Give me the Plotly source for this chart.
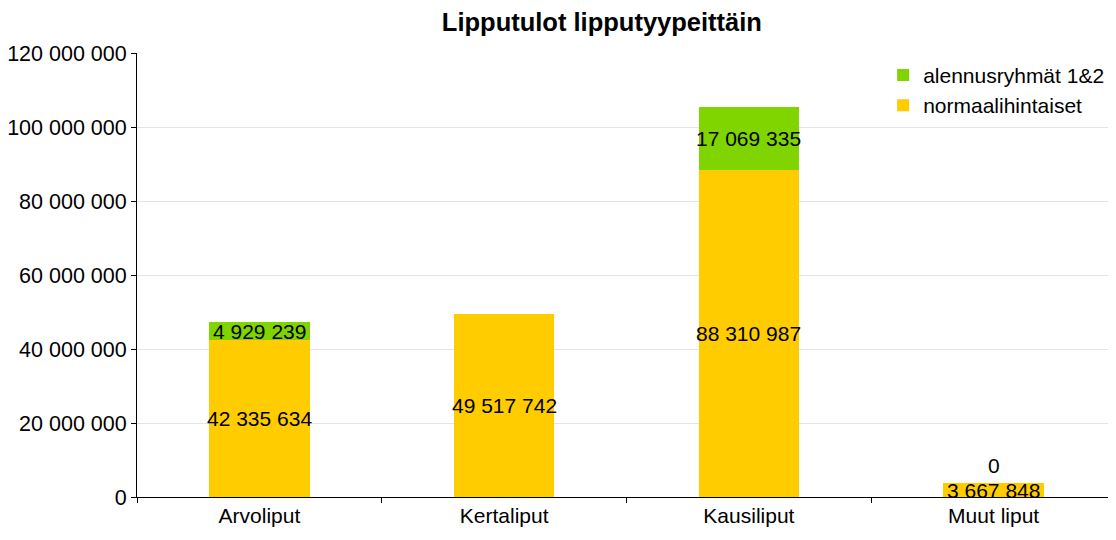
import plotly.graph_objects as go

categories = ["Arvoliput", "Kertaliput", "Kausiliput", "Muut liput"]
normaali = [42335634, 49517742, 88310987, 3667848]
alennus = [4929239, None, 17069335, 0]
series_names = ["normaalihintaiset", "alennusryhmät 1&2"]
colors = ["#FFCC00", "#80D400"]
y_ticks = [0, 20000000, 40000000, 60000000, 80000000, 100000000, 120000000]

def fmt(v):
    return f"{v:,}".replace(",", " ")

FONT = "Liberation Sans, Arial, sans-serif"
LBL = 21

fig = go.Figure()
fig.add_trace(go.Bar(x=categories, y=normaali, name=series_names[0],
                     marker=dict(color=colors[0], line=dict(width=0)), width=0.41))
fig.add_trace(go.Bar(x=categories, y=[a if a is not None else 0 for a in alennus],
                     name=series_names[1],
                     marker=dict(color=colors[1], line=dict(width=0)), width=0.41))

annotations = []
for c, n, a in zip(categories, normaali, alennus):
    annotations.append(dict(x=c, y=n / 2, text=fmt(n), showarrow=False,
                            font=dict(size=LBL, color="black", family=FONT)))
    if a is None:
        continue
    if a > 0:
        annotations.append(dict(x=c, y=n + a / 2, text=fmt(a), showarrow=False,
                                font=dict(size=LBL, color="black", family=FONT)))
    else:
        annotations.append(dict(x=c, y=n + a, yshift=18, text=fmt(a), showarrow=False,
                                font=dict(size=LBL, color="black", family=FONT)))

# page body has an 8px margin: figure starts at (8, 8) in the window
fig.update_layout(
    width=1108, height=532,
    barmode="stack",
    paper_bgcolor="white", plot_bgcolor="white",
    margin=dict(l=129, r=0, t=45, b=43),
    title=dict(text="<b>Lipputulot lipputyypeittäin</b>", x=0.536, xanchor="center",
               y=(532 - 14) / 532, yanchor="middle",
               font=dict(size=25.5, color="black", family=FONT)),
    font=dict(family=FONT, color="black", size=LBL),
    separators=", ",
    showlegend=True,
    legend=dict(x=0.993, y=0.996, xanchor="right", yanchor="top", traceorder="reversed",
                font=dict(size=LBL, family=FONT, color="black"),
                bgcolor="rgba(0,0,0,0)", itemwidth=30, tracegroupgap=0),
    annotations=annotations,
    bargap=0.59,
)
fig.update_yaxes(range=[0, 120000000], tickvals=y_ticks,
                 ticktext=[fmt(v) for v in y_ticks],
                 showgrid=True, gridcolor="#E4E4E4", gridwidth=1,
                 showline=True, linecolor="black", linewidth=1,
                 ticks="outside", ticklen=5, tickcolor="black",
                 zeroline=False, tickfont=dict(size=21.5, family=FONT, color="black"))
fig.update_xaxes(showline=True, linecolor="black", linewidth=1,
                 ticks="outside", ticklen=5, tickcolor="black", tickson="boundaries",
                 showgrid=False, tickfont=dict(size=LBL, family=FONT, color="black"))

fig.write_html("out.html")
